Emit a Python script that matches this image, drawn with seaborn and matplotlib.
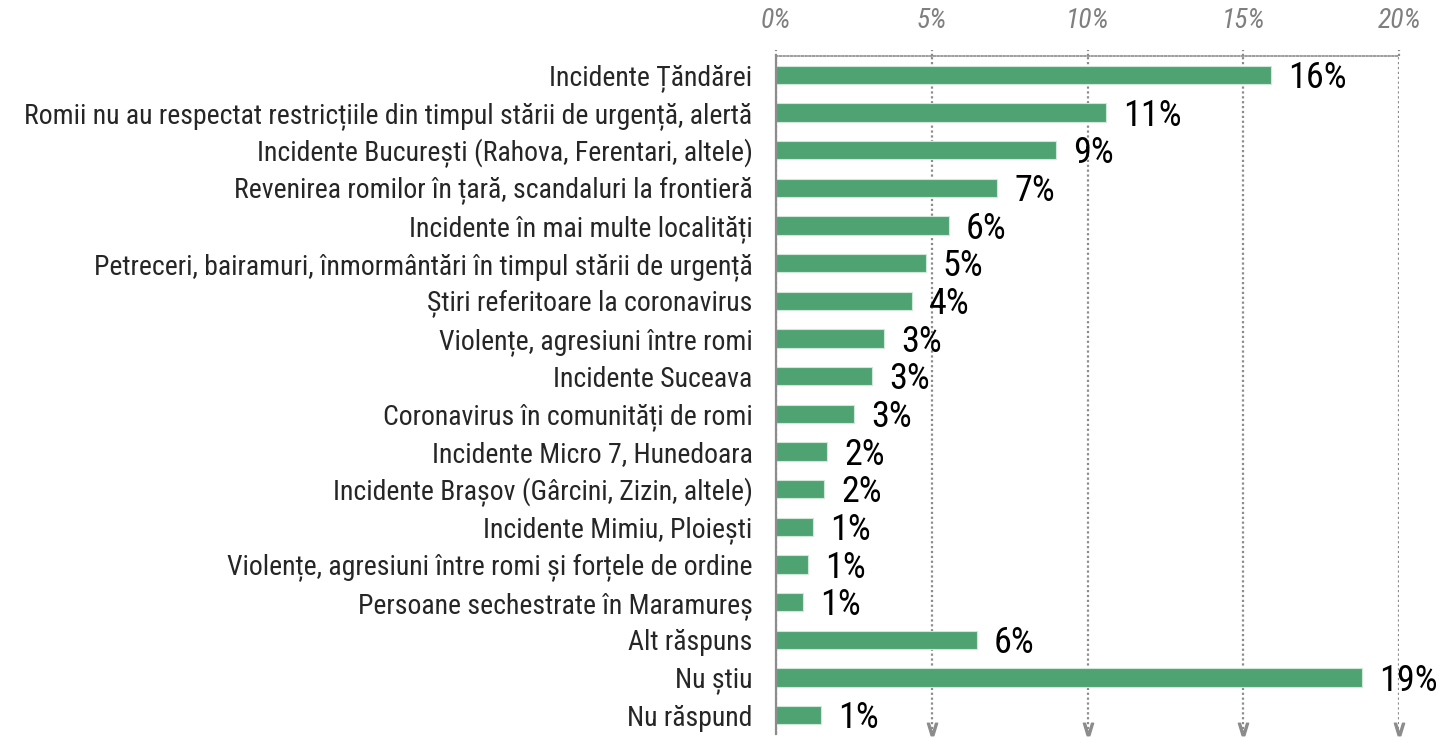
import matplotlib
matplotlib.use("Agg")
import matplotlib.pyplot as plt
from matplotlib import font_manager as fm
import seaborn as sns
import pandas as pd
import numpy as np

categories = [
    "Incidente Țăndărei",
    "Romii nu au respectat restricțiile din timpul stării de urgență, alertă",
    "Incidente București (Rahova, Ferentari, altele)",
    "Revenirea romilor în țară, scandaluri la frontieră",
    "Incidente în mai multe localități",
    "Petreceri, bairamuri, înmormântări în timpul stării de urgență",
    "Știri referitoare la coronavirus",
    "Violențe, agresiuni între romi",
    "Incidente Suceava",
    "Coronavirus în comunități de romi",
    "Incidente Micro 7, Hunedoara",
    "Incidente Brașov (Gârcini, Zizin, altele)",
    "Incidente Mimiu, Ploiești",
    "Violențe, agresiuni între romi și forțele de ordine",
    "Persoane sechestrate în Maramureș",
    "Alt răspuns",
    "Nu știu",
    "Nu răspund",
]
values = [15.9, 10.6, 9.0, 7.1, 5.55, 4.8, 4.37, 3.47, 3.08, 2.5,
          1.64, 1.54, 1.19, 1.03, 0.87, 6.45, 18.8, 1.44]
labels = ["16%", "11%", "9%", "7%", "6%", "5%", "4%", "3%", "3%", "3%",
          "2%", "2%", "1%", "1%", "1%", "6%", "19%", "1%"]
xticks = [0, 5, 10, 15, 20]
xtick_labels = ["0%", "5%", "10%", "15%", "20%"]

available = {f.name for f in fm.fontManager.ttflist}
def pick(cands):
    for c in cands:
        if c in available:
            return c
    return "DejaVu Sans"

cat_font = pick(["Roboto Condensed", "PT Sans Narrow", "Open Sans Condensed",
                 "Encode Sans Condensed", "Liberation Sans Narrow", "Lato"])
val_font = pick(["Roboto Condensed", "PT Sans Narrow", "Open Sans Condensed",
                 "Liberation Sans Narrow", "Lato"])

sns.set_style("white")
plt.rcParams['font.family'] = [cat_font, 'DejaVu Sans']

df = pd.DataFrame({"cat": categories, "val": values})

fig = plt.figure(figsize=(14.5, 7.37), dpi=100)
ax = fig.add_axes([776/1450, 1-734/737, 623/1450, (734-56)/737])

sns.barplot(data=df, x="val", y="cat", orient="h", color="#4fa373",
            saturation=1, width=0.48, edgecolor="#cfe8d8", linewidth=0.8, ax=ax)

ax.set_xlim(0, 20)
ax.set_ylim(len(categories) - 0.5, -0.5)
ax.set_xlabel("")
ax.set_ylabel("")

# fit category font size so the longest label spans ~738 px
renderer = fig.canvas.get_renderer()
probe = fig.text(0, 0, categories[1], fontsize=17, family=[cat_font, 'DejaVu Sans'])
w = probe.get_window_extent(renderer).width
probe.remove()
cat_size = float(np.clip(17 * 738 / w, 13, 20))

# x axis on top
ax.xaxis.tick_top()
ax.set_xticks(xticks)
ax.set_xticklabels(xtick_labels, fontstyle="italic", color="#7f7f7f", fontsize=20)
ax.tick_params(axis="x", length=0, pad=16)

# y axis labels
ax.set_yticks(range(len(categories)))
ax.set_yticklabels(categories, fontsize=cat_size, color="#262626")
ax.tick_params(axis="y", length=0, pad=17)
ax.set_yticks(np.arange(-0.5, len(categories), 1), minor=True)
ax.tick_params(axis="y", which="minor", length=5, width=1.5, color="#8c8c8c", direction="out")

# grid
ax.grid(axis="x", linestyle=(0, (1, 1.2)), color="#8c8c8c", lw=1.6)
ax.set_axisbelow(True)
for s in ["right", "bottom"]:
    ax.spines[s].set_visible(False)
ax.spines["left"].set_color("#8c8c8c")
ax.spines["left"].set_linewidth(1.6)
ax.spines["top"].set_linestyle((0, (1, 1.2)))
ax.spines["top"].set_color("#8c8c8c")
ax.spines["top"].set_linewidth(1.2)

# arrowheads at the bottom of gridlines, short stubs above the top line
for xv in xticks[1:]:
    ax.plot([xv], [len(categories) - 0.62], marker=r"$\vee$", markersize=9,
            color="#8c8c8c", clip_on=False)
for xv in xticks:
    ax.plot([xv, xv], [-0.5, -0.65], linestyle=(0, (1, 1.2)), color="#8c8c8c",
            lw=1.6, clip_on=False)

# value labels
for i, (v, lab) in enumerate(zip(values, labels)):
    ax.text(v + 0.55, i + 0.08, lab, va="center", ha="left", fontsize=26,
            color="black", family=[val_font, 'DejaVu Sans'])

fig.savefig("out.png", dpi=100)
